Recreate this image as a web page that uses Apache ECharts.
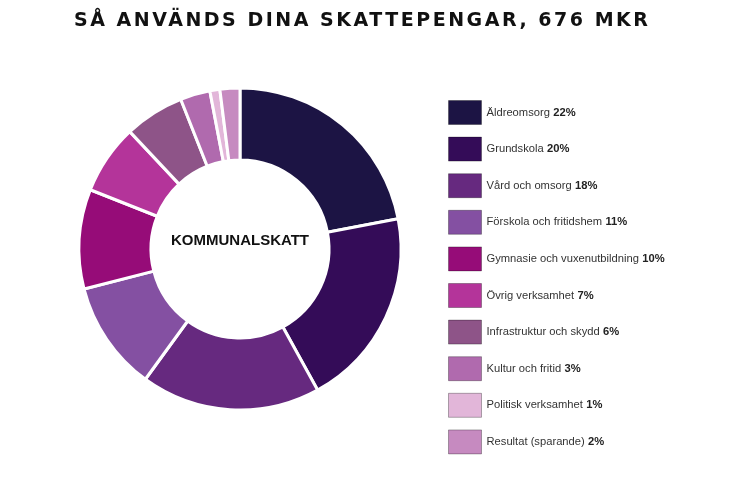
<!DOCTYPE html>
<html>
<head>
<meta charset="utf-8">
<script src="https://cdn.jsdelivr.net/npm/echarts@6/dist/echarts.min.js"></script>
<style>
  html, body { margin: 0; padding: 0; background: #fff; }
  #wrap { position: relative; width: 749px; height: 479px; }
  #chart { width: 749px; height: 479px; }
  #title {
    position: absolute; left: 74px; top: 8px;
    font-family: 'DejaVu Sans', sans-serif;
    font-size: 19px; font-weight: bold; color: #111;
    letter-spacing: 2px; white-space: nowrap;
  }
</style>
</head>
<body>
<div id="wrap">
  <div id="chart"></div>
  <div id="title"></div>
</div>
<script>
  const titleText = 'SÅ ANVÄNDS DINA SKATTEPENGAR, 676 MKR';
  const centerText = 'KOMMUNALSKATT';

  const categories = [
    'Äldreomsorg',
    'Grundskola',
    'Vård och omsorg',
    'Förskola och fritidshem',
    'Gymnasie och vuxenutbildning',
    'Övrig verksamhet',
    'Infrastruktur och skydd',
    'Kultur och fritid',
    'Politisk verksamhet',
    'Resultat (sparande)'
  ];
  const shares = [22, 20, 18, 11, 10, 7, 6, 3, 1, 2];
  const colors = [
    '#1c1444', '#340c58', '#66297f', '#8450a2', '#960c78',
    '#b4349a', '#8e5488', '#b06aae', '#e2b6d9', '#c68ac0'
  ];

  // title spreads over roughly 574px in the original
  const titleEl = document.getElementById('title');
  titleEl.textContent = titleText;
  titleEl.style.letterSpacing = '0px';
  const natural = titleEl.getBoundingClientRect().width;
  titleEl.style.letterSpacing = ((574 - natural) / (titleText.length - 1)) + 'px';

  const chart = echarts.init(document.getElementById('chart'));

  chart.setOption({
    animation: false,
    color: colors,
    legend: {
      orient: 'vertical',
      left: 448,
      top: 100,
      padding: 0,
      itemWidth: 33,
      itemHeight: 24,
      itemGap: 11.6,
      icon: 'rect',
      selectedMode: false,
      itemStyle: { borderColor: 'rgba(0,0,0,0.3)', borderWidth: 1 },
      data: categories,
      formatter: name => {
        const i = categories.indexOf(name);
        return `{n|${name}} {v|${shares[i]}%}`;
      },
      textStyle: {
        rich: {
          n: { fontFamily: 'Liberation Sans, Arial, sans-serif', fontSize: 11.2, color: '#333' },
          v: { fontFamily: 'Liberation Sans, Arial, sans-serif', fontSize: 11.2, fontWeight: 'bold', color: '#222' }
        }
      }
    },
    graphic: [{
      type: 'text',
      x: 240,
      y: 241,
      style: {
        text: centerText,
        align: 'center',
        verticalAlign: 'middle',
        fontFamily: 'Liberation Sans, Arial, sans-serif',
        fontSize: 15,
        fontWeight: 'bold',
        fill: '#111'
      }
    }],
    series: [{
      type: 'pie',
      center: [240, 249],
      radius: [89, 161],
      startAngle: 90,
      clockwise: true,
      silent: true,
      label: { show: false },
      labelLine: { show: false },
      itemStyle: { borderColor: '#fff', borderWidth: 3 },
      data: categories.map((name, i) => ({ name, value: shares[i] }))
    }]
  });

  window.addEventListener('resize', () => chart.resize());
</script>
</body>
</html>
